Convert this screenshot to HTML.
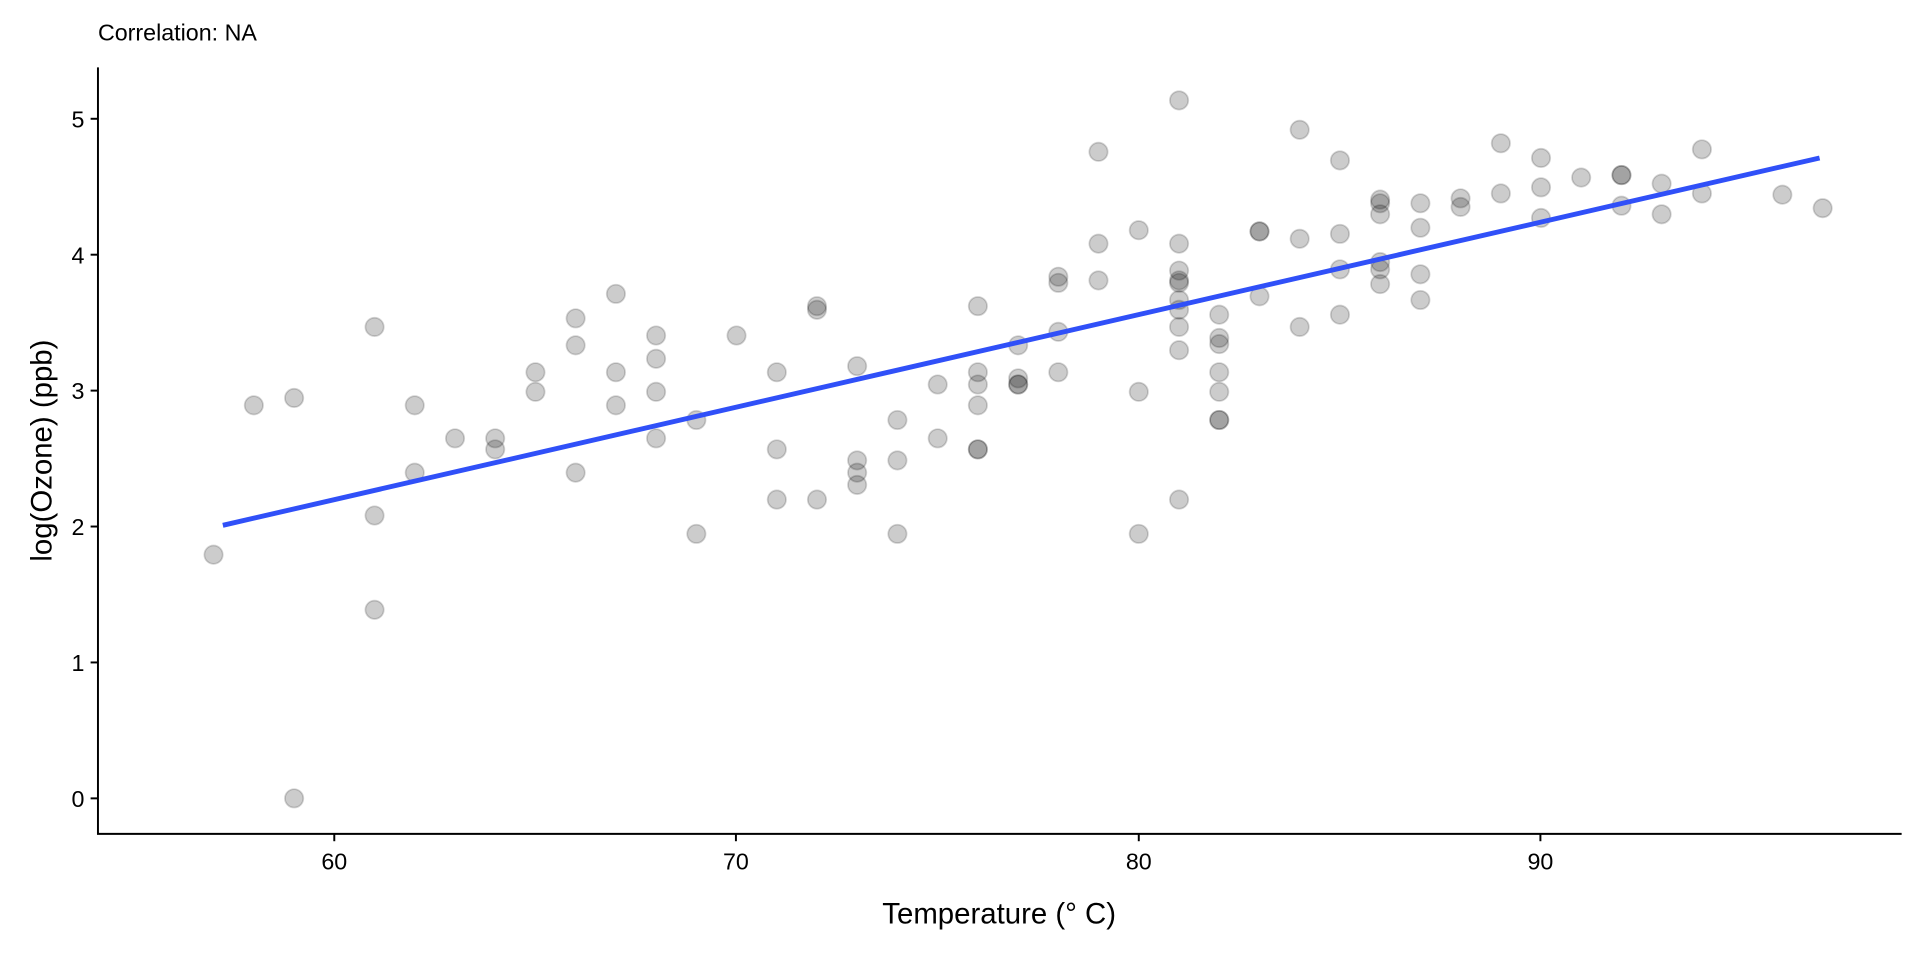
<!DOCTYPE html>
<html><head><style>body{margin:0;background:#fff}svg{display:block}</style></head>
<body>
<svg width="1920" height="960" viewBox="0 0 1568 784" xmlns="http://www.w3.org/2000/svg" font-family="Liberation Sans, Arial, sans-serif">
<rect width="1568" height="784" fill="#fff"/>
<g id="pts" fill="rgba(0,0,0,0.2)" stroke="rgba(0,0,0,0.17)" stroke-width="1.4"></g>
<line x1="182" y1="429" x2="1486" y2="129" stroke="#3050f8" stroke-width="4"/>
<g stroke="#000" stroke-width="1.6" fill="none">
<polyline points="80,55 80,681 1553,681"/>
<line x1="74" y1="652" x2="80" y2="652"/><line x1="74" y1="541" x2="80" y2="541"/><line x1="74" y1="430" x2="80" y2="430"/><line x1="74" y1="319" x2="80" y2="319"/><line x1="74" y1="208" x2="80" y2="208"/><line x1="74" y1="97" x2="80" y2="97"/>
<line x1="273" y1="681" x2="273" y2="687"/><line x1="601" y1="681" x2="601" y2="687"/><line x1="930" y1="681" x2="930" y2="687"/><line x1="1258" y1="681" x2="1258" y2="687"/>
</g>
<g font-size="19" fill="#000" text-anchor="end">
<text x="69" y="659">0</text><text x="69" y="548">1</text><text x="69" y="437">2</text><text x="69" y="326">3</text><text x="69" y="215">4</text><text x="69" y="104">5</text>
</g>
<g font-size="19" fill="#000" text-anchor="middle">
<text x="273" y="710">60</text><text x="601" y="710">70</text><text x="930" y="710">80</text><text x="1258" y="710">90</text>
</g>
<text x="816" y="754" font-size="24" text-anchor="middle">Temperature (° C)</text>
<text transform="translate(42,368) rotate(-90)" font-size="24" text-anchor="middle">log(Ozone) (ppb)</text>
<text x="80" y="33" font-size="19">Correlation: NA</text>
</svg>
<script>
var d={57:[453],58:[331],59:[325,652],61:[267,421,498],62:[331,386],63:[358],64:[358,367],65:[304,320],66:[260,282,386],67:[240,304,331],68:[274,293,320,358],69:[343,436],70:[274],71:[304,367,408],72:[250,253,408],73:[299,376,386,396],74:[343,376,436],75:[314,358],76:[250,304,314,331,367,367],77:[282,309,314,314],78:[226,231,271,304],79:[124,199,229],80:[188,320,436],81:[82,199,221,229,231,245,253,267,286,408],82:[257,276,281,304,320,343,343],83:[189,189,242],84:[106,195,267],85:[131,191,220,257],86:[163,166,175,214,220,232],87:[166,186,224,245],88:[162,169],89:[117,158],90:[129,153,178],91:[145],92:[143,143,168],93:[150,175],94:[122,158],96:[159],97:[170]};
var g=document.getElementById('pts'),s='';
for(var t in d){var x=273+(t-60)*32.85;d[t].forEach(function(y){s+='<circle cx="'+x.toFixed(1)+'" cy="'+y+'" r="7.5"/>';});}
g.innerHTML=s;
</script>
</body></html>
